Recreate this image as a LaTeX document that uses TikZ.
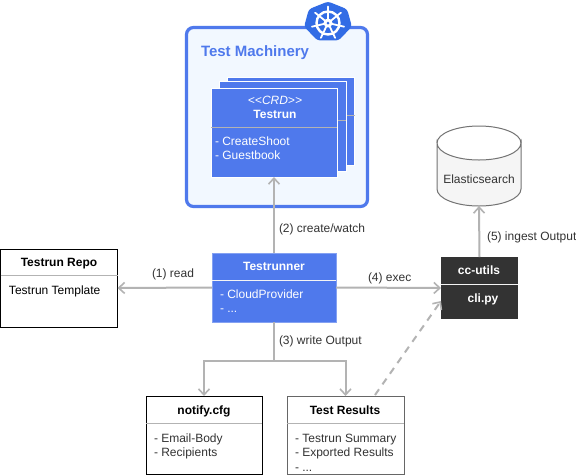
\documentclass[tikz,border=0pt]{standalone}
\usepackage{fontspec}
\setmainfont{Liberation Sans}
\usetikzlibrary{arrows.meta}
\definecolor{bluebox}{HTML}{4F79EC}
\definecolor{panel}{HTML}{F2F8FF}
\definecolor{conn}{HTML}{B3B3B3}
\definecolor{labelgrey}{HTML}{333333}
\definecolor{dark}{HTML}{333333}
\definecolor{kube}{HTML}{326CE5}
\tikzset{
  x=1pt,y=-1pt,
  every node/.style={inner sep=0pt,outer sep=0pt,font=\fontsize{12}{14}\selectfont},
  boxnode/.style={rectangle,anchor=center},
  whitebox/.style={boxnode,draw=black,line width=1pt,fill=white},
  bluenode/.style={boxnode,fill=bluebox,draw=white,line width=1pt},
  darknode/.style={boxnode,fill=dark},
  panelbox/.style={boxnode,draw=bluebox,fill=panel,line width=3.2pt,rounded corners=7pt},
  sep/.style={line width=1pt,draw=#1},
  textbox/.style={text height=10pt,text depth=2pt},
  headtext/.style={textbox,font=\fontsize{12}{14}\bfseries\selectfont,anchor=center},
  listtext/.style={textbox,anchor=west,align=left,text=#1},
  listtext/.default=black,
  conlabel/.style={textbox,anchor=west,text=labelgrey},
  conn/.style={draw=conn,line width=2pt,-{Straight Barb[length=6pt,width=11pt,line width=1.6pt]}},
  connplain/.style={draw=conn,line width=2pt},
  conndash/.style={conn,dash pattern=on 7pt off 6pt},
}
\begin{document}
\begin{tikzpicture}
\useasboundingbox (0,0) rectangle (576,475);
\fill[white] (0,0) rectangle (576,475);

% Test Machinery panel
\node[panelbox,minimum width=181,minimum height=179] (machine) at (277,117) {};
\node[textbox,anchor=west,text=bluebox,font=\fontsize{15}{17}\bfseries\selectfont] (machinetitle) at (201,52) {Test Machinery};

% Kubernetes logo
\coordinate (logo) at (328,22);
\fill[kube,rounded corners=3pt]
  ([shift={(-90:24.5 and 20.5)}]logo)
  -- ([shift={(-38.57:24.5 and 20.5)}]logo)
  -- ([shift={(12.86:24.5 and 20.5)}]logo)
  -- ([shift={(64.29:24.5 and 20.5)}]logo)
  -- ([shift={(115.71:24.5 and 20.5)}]logo)
  -- ([shift={(167.14:24.5 and 20.5)}]logo)
  -- ([shift={(218.57:24.5 and 20.5)}]logo)
  -- cycle;
\coordinate (wheel) at (328,23);
\draw[white,line width=2.4pt] (wheel) circle (11.5);
\fill[white] (wheel) circle (4.5);
\foreach \a in {-90,-38.57,12.86,64.29,115.71,167.14,218.57}{
  \draw[white,line width=1.8pt,line cap=round] (wheel) -- ++(\a:16.5);
}
\fill[kube] (wheel) circle (1.5);

% stacked Testrun cards
\node[bluenode,minimum width=127,minimum height=88] (crdc) at (291,121) {};
\draw[sep=conn] (crdc.west |- 0,115) -- (crdc.east |- 0,115);
\node[bluenode,minimum width=127,minimum height=90] (crdb) at (282.5,126) {};
\draw[sep=conn] (crdb.west |- 0,120) -- (crdb.east |- 0,120);
\node[bluenode,minimum width=126,minimum height=89] (crda) at (274,132.5) {};
\draw[sep=conn] (crda.west |- 0,127) -- (crda.east |- 0,127);
\node[textbox,anchor=center,text=white,font=\fontsize{12}{14}\itshape\selectfont] (crdstereo) at (275,100) {{<}{<}CRD{>}{>}};
\node[headtext,text=white] (crdname) at (275,114) {Testrun};
\node[listtext=white] (crdl1) at (215,141) {- CreateShoot};
\node[listtext=white] (crdl2) at (215,155) {- Guestbook};

% Testrun Repo
\node[whitebox,minimum width=117,minimum height=78] (repo) at (59,288) {};
\draw[sep=conn] (repo.west |- 0,275) -- (repo.east |- 0,275);
\node[headtext] (repohead) at (59,262) {Testrun Repo};
\node[listtext] (repol1) at (9,290) {Testrun Template};

% Testrunner
\node[boxnode,fill=bluebox,draw=bluebox!70!white,line width=1pt,minimum width=124,minimum height=69] (runner) at (274,287.5) {};
\draw[sep=white!85!conn] (runner.west |- 0,280) -- (runner.east |- 0,280);
\node[headtext,text=white] (runnerhead) at (274,266) {Testrunner};
\node[listtext=white] (runnerl1) at (220,294) {- CloudProvider};
\node[listtext=white] (runnerl2) at (220,308) {- ...};

% cc-utils
\node[darknode,minimum width=77,minimum height=62] (cc) at (479.5,288) {};
\draw[sep=white!85!conn] (cc.west |- 0,284) -- (cc.east |- 0,284);
\node[headtext,text=white] (cchead) at (479,270) {cc-utils};
\node[headtext,text=white] (cclib) at (483,298) {cli.py};

% Elasticsearch
\node[boxnode,minimum width=84,minimum height=80] (es) at (479,166) {};
\filldraw[fill=white!96!black,draw=black!55,line width=1pt]
  (437,143) arc[start angle=180,end angle=0,x radius=42,y radius=17]
  -- (521,189) arc[start angle=0,end angle=180,x radius=42,y radius=17] -- cycle;
\draw[black!55,line width=1pt] (437,143) arc[start angle=180,end angle=360,x radius=42,y radius=17];
\node[textbox,anchor=center,text=labelgrey] (eslabel) at (479,179) {Elasticsearch};

% notify.cfg
\node[whitebox,minimum width=116,minimum height=78] (notify) at (204,435) {};
\draw[sep=conn] (notify.west |- 0,423) -- (notify.east |- 0,423);
\node[headtext] (notifyhead) at (204,410) {notify.cfg};
\node[listtext=labelgrey] (notifyl1) at (154,438) {- Email-Body};
\node[listtext=labelgrey] (notifyl2) at (154,452) {- Recipients};

% Test Results
\node[boxnode,draw=black!60,fill=white,line width=1pt,minimum width=117,minimum height=78] (results) at (345.5,435) {};
\draw[sep=conn] (results.west |- 0,423) -- (results.east |- 0,423);
\node[headtext] (resultshead) at (345,410) {Test Results};
\node[listtext=labelgrey] (resultsl1) at (295,438) {- Testrun Summary};
\node[listtext=labelgrey] (resultsl2) at (295,452) {- Exported Results};
\node[listtext=labelgrey] (resultsl3) at (295,467) {- ...};

% connectors
\coordinate (fork) at (274,361);
\coordinate (dashfrom) at (375,395);
\coordinate (dashto) at (441,301);
\draw[conn] (runner.north) -- (crda.south);
\draw[conn] (runner.west) -- (repo.east);
\draw[conn] (runner.east) -- (cc.west);
\draw[conn] (cc.north) -- (es.south);
\draw[connplain] (runner.south) -- (fork);
\draw[conn] (fork) -| (notify.north);
\draw[conn] (fork) -| (results.north);
\draw[conndash] (dashfrom) -- (dashto);

% connector labels
\node[conlabel] (lab1) at (152,273) {(1) read};
\node[conlabel] (lab2) at (279,228) {(2) create/watch};
\node[conlabel] (lab3) at (279,340) {(3) write Output};
\node[conlabel] (lab4) at (368,277) {(4) exec};
\node[conlabel] (lab5) at (487,236) {(5) ingest Output};
\end{tikzpicture}
\end{document}
